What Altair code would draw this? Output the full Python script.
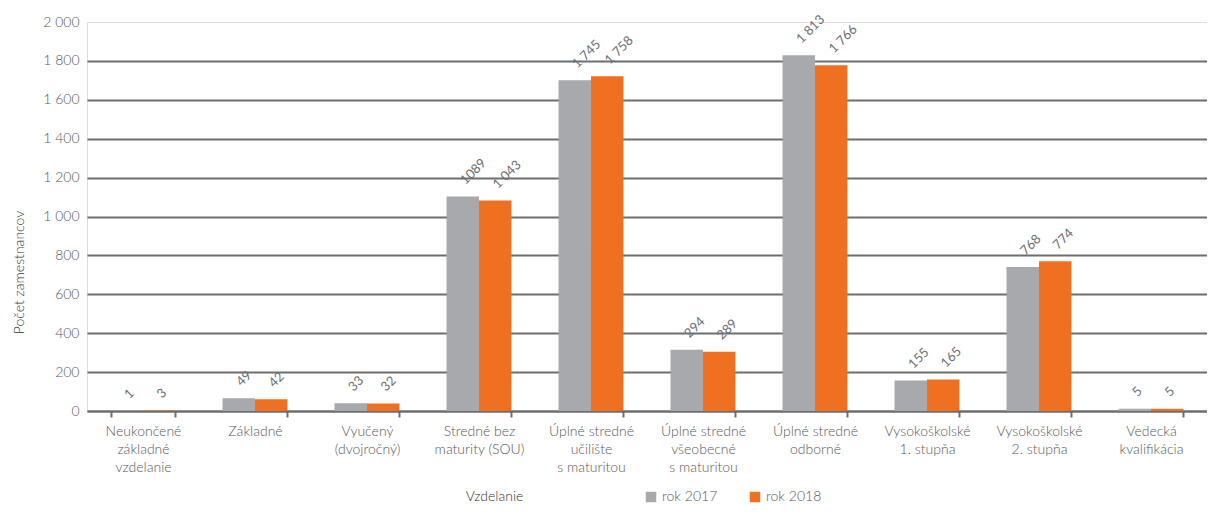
import altair as alt
import pandas as pd

categories = [
    "Neukončené|základné|vzdelanie",
    "Základné",
    "Vyučený|(dvojročný)",
    "Stredné bez|maturity (SOU)",
    "Úplné stredné|učilište|s maturitou",
    "Úplné stredné|všeobecné|s maturitou",
    "Úplné stredné|odborné",
    "Vysokoškolské|1. stupňa",
    "Vysokoškolské|2. stupňa",
    "Vedecká|kvalifikácia",
]
years = ["rok 2017", "rok 2018"]
bars_2017 = [1, 66, 40, 1103, 1701, 315, 1829, 157, 740, 12]
bars_2018 = [3, 60, 39, 1082, 1721, 305, 1778, 162, 770, 12]
labels_2017 = ["1", "49", "33", "1089", "1 745", "294", "1 813", "155", "768", "5"]
labels_2018 = ["3", "42", "32", "1 043", "1 758", "289", "1 766", "165", "774", "5"]
y_ticks = [0, 200, 400, 600, 800, 1000, 1200, 1400, 1600, 1800, 2000]
colors = ["#a7a9ac", "#f07022"]

rows = []
for i, c in enumerate(categories):
    rows.append({"cat": c, "year": years[0], "value": bars_2017[i], "label": labels_2017[i]})
    rows.append({"cat": c, "year": years[1], "value": bars_2018[i], "label": labels_2018[i]})
df = pd.DataFrame(rows)

FONT = "Lato"
GRID = "#6d6e71"
TXT = "#58595b"

x = alt.X(
    "cat:N",
    sort=categories,
    scale=alt.Scale(paddingInner=0.42, paddingOuter=0.21),
    axis=alt.Axis(
        title="Vzdelanie",
        labelExpr="split(datum.label, '|')",
        labelAngle=0,
        labelFontSize=14,
        labelFontWeight=300,
        labelLineHeight=18,
        labelPadding=7,
        labelColor=TXT,
        labelFont=FONT,
        tickBand="extent",
        tickColor=GRID,
        tickSize=6,
        tickWidth=2,
        domainColor=GRID,
        domainWidth=2,
        titleFont=FONT,
        titleFontSize=14,
        titleFontWeight=300,
        titleColor="#333333",
        titleX=407,
        titleY=85,
        titleBaseline="middle",
    ),
)

y = alt.Y(
    "value:Q",
    scale=alt.Scale(domain=[0, 2000], nice=False),
    axis=alt.Axis(
        title="Počet zamestnancov",
        values=y_ticks,
        tickCount=11,
        labelExpr="replace(format(datum.value, ','), ',', ' ')",
        labelOverlap=False,
        labelFontSize=14,
        labelFontWeight=300,
        labelColor=TXT,
        labelFont=FONT,
        labelPadding=8,
        domain=False,
        ticks=False,
        grid=True,
        gridColor=GRID,
        gridWidth=2,
        gridOpacity={"condition": {"test": "datum.value >= 2000", "value": 0}, "value": 1},
        titleFont=FONT,
        titleFontSize=14,
        titleFontWeight=300,
        titleColor="#333333",
        titleX=-61,
        titleY=250,
    ),
)

color = alt.Color(
    "year:N",
    scale=alt.Scale(domain=years, range=colors),
    legend=alt.Legend(
        title=None,
        orient="none",
        legendX=557,
        legendY=468,
        direction="horizontal",
        symbolType="square",
        symbolSize=110,
        symbolStrokeWidth=0,
        labelFontSize=14,
        labelFontWeight=300,
        labelFont=FONT,
        labelColor=TXT,
        columnPadding=30,
        labelOffset=4,
    ),
)

base = alt.Chart(df).encode(
    x=x,
    xOffset=alt.XOffset("year:N", sort=years),
    y=y,
)

bars = base.mark_bar().encode(color=color)

text = base.mark_text(
    angle=315,
    align="left",
    baseline="middle",
    dx=10,
    dy=-10,
    fontSize=13,
    font=FONT,
    color="#6d6e71",
).encode(text="label:N")

chart = (
    alt.layer(bars, text)
    .properties(
        width=1120,
        height=389,
        padding={"left": 79, "top": 14, "right": 0, "bottom": 93},
        autosize=alt.AutoSizeParams(type="none"),
    )
    .configure_view(stroke=None)
    .configure(background="white")
)

chart.save("out.html", embed_options={"renderer": "svg", "actions": False})
